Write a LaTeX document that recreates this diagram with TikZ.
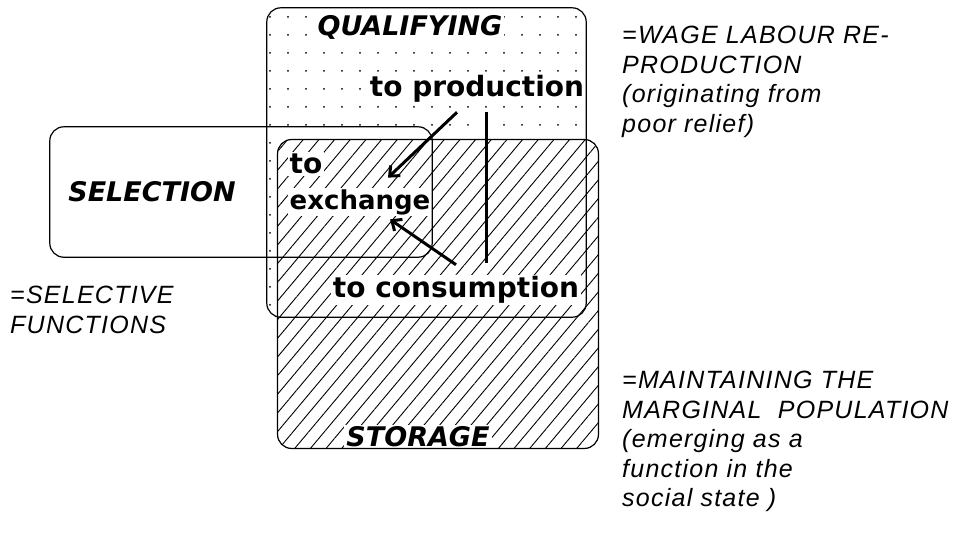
\documentclass[tikz,border=0pt]{standalone}
\usepackage{fontspec}
\setmainfont{DejaVu Sans}
\newfontfamily\notefont[LetterSpace=5]{Liberation Sans}
\usepackage{tikz}
\usetikzlibrary{patterns.meta,arrows.meta}

\begin{document}
\begin{tikzpicture}[x=1pt,y=-1pt,
    area/.style={draw,line width=1.2pt,rounded corners=14pt},
    func/.style={fill=white,inner sep=1.5pt,font=\fontsize{28}{30}\selectfont\bfseries},
    title/.style={fill=white,inner sep=2pt,font=\fontsize{27}{30}\selectfont\bfseries\itshape},
    note/.style={anchor=north west,inner sep=0pt,align=left,font=\notefont\fontsize{25}{29.5}\selectfont\itshape},
    link/.style={line width=3pt,-{Straight Barb[length=8pt,width=14pt]}}]
    \useasboundingbox (0,0) rectangle (970,557);

    % the three areas, filled first
    \node[rounded corners=14pt,minimum width=319pt,minimum height=309pt,inner sep=0pt,
        pattern={Dots[distance=18pt,radius=1pt]}] (qual) at (426.5,162.5) {};
    \node[rounded corners=14pt,minimum width=320pt,minimum height=308pt,inner sep=0pt,
        preaction={fill=white},pattern={Lines[angle=50,distance=12pt,line width=0.9pt]}] (stor) at (438,294) {};
    \node[minimum width=382pt,minimum height=130pt,inner sep=0pt] (sel) at (241,192) {};

    % labels
    \node[title] (qualt) at (410,27) {QUALIFYING};
    \node[title,fill=none] (selt) at (152,192) {SELECTION};
    \node[title] (stort) at (418,437) {STORAGE};
    \node[func] (prod) at (477,89) {to production};
    \node[func,anchor=west] (exto) at (288,164) {to};
    \node[func,anchor=west,font=\fontsize{26}{28}\selectfont\bfseries] (exch) at (288,202) {exchange};
    \node[func] (cons) at (456,290) {to consumption};

    % outlines on top
    \draw[area] (qual.north west) rectangle (qual.south east);
    \draw[area] (stor.north west) rectangle (stor.south east);
    \draw[area] (sel.north west) rectangle (sel.south east);

    % links between the functions
    \draw[link] ([xshift=-20pt,yshift=-8pt]prod.south) -- ([xshift=28pt,yshift=10pt]exch.north);
    \draw[link,-] ([xshift=9pt,yshift=-8pt]prod.south) -- ([xshift=30pt,yshift=12pt]cons.north);
    \draw[link] ([xshift=0pt,yshift=10pt]cons.north) -- ([xshift=30pt,yshift=-3pt]exch.south);

    % notes
    \node[note] (wagenote) at (622,26) {=WAGE LABOUR RE-\\PRODUCTION\\(originating from\\poor relief)};
    \node[note] (selnote) at (10,286) {=SELECTIVE\\FUNCTIONS};
    \node[note] (margnote) at (622,371) {=MAINTAINING THE\\MARGINAL~~POPULATION\\(emerging as a\\function in the\\social state )};
\end{tikzpicture}
\end{document}
